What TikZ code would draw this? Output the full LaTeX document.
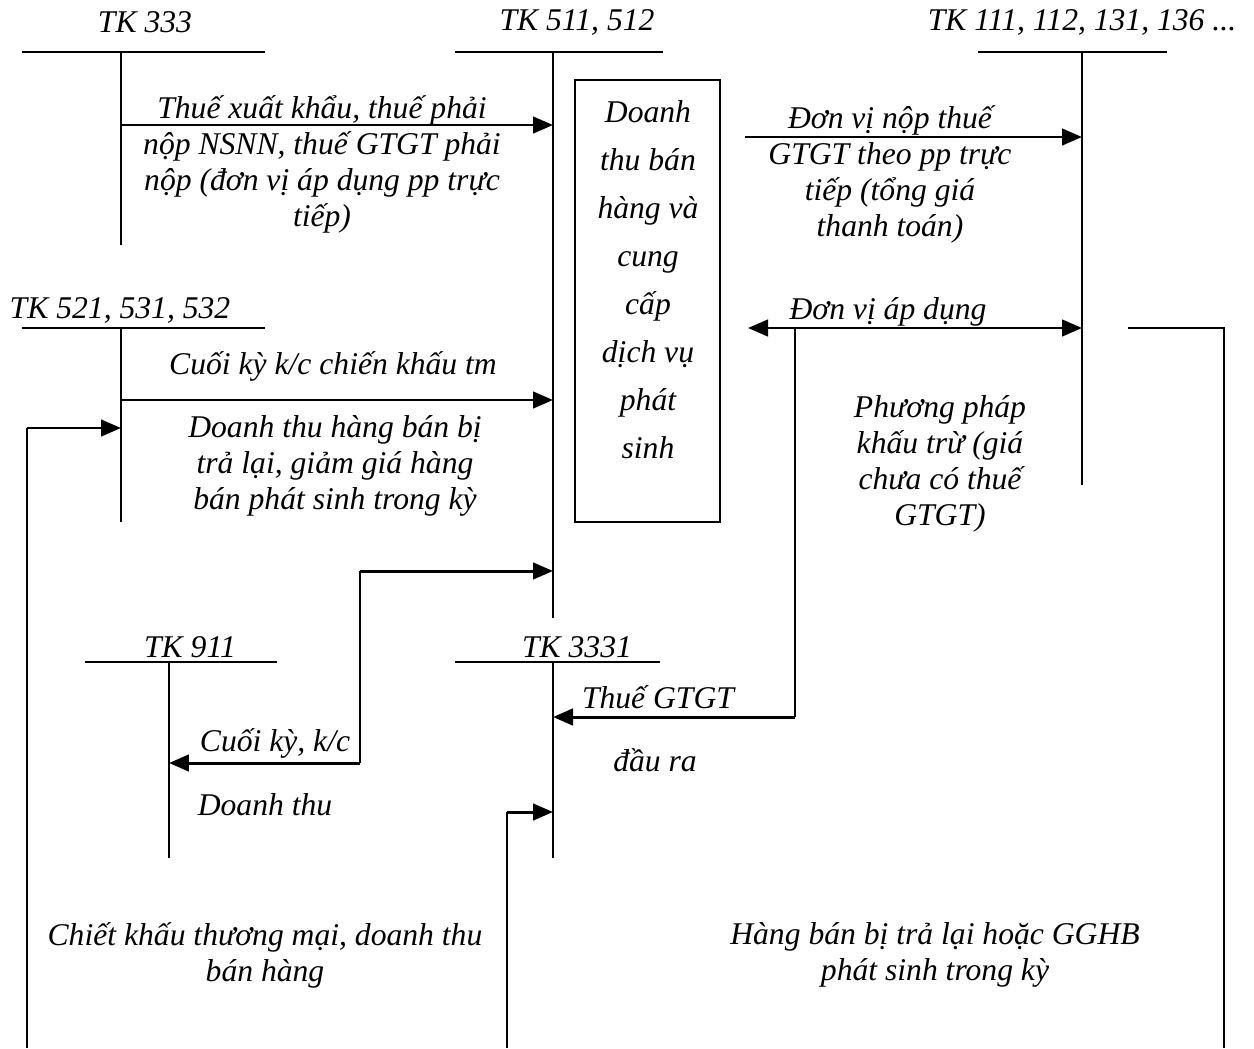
\documentclass[tikz,border=0pt]{standalone}
\usepackage{fontspec}
\setmainfont{Liberation Serif}
\usetikzlibrary{arrows.meta}

\tikzset{
  acctline/.style={line width=1.1pt},
  link/.style={line width=1.1pt},
  flow/.style={line width=1.7pt,-{Triangle[length=4mm,width=3.3mm]}},
  twoway/.style={line width=1.7pt,
    {Triangle[length=4mm,width=3.3mm]}-{Triangle[length=4mm,width=3.3mm]}},
  acctname/.style={font=\fontsize{18}{20.5}\selectfont\itshape,inner sep=0pt},
  note/.style={font=\fontsize{18}{20.5}\selectfont\itshape,align=center,inner sep=0pt},
  revbox/.style={draw,line width=1.1pt,minimum width=2.9cm,minimum height=8.84cm,inner sep=0pt},
  boxtext/.style={font=\fontsize{18}{27.3}\selectfont\itshape,align=center,inner sep=0pt},
}

\begin{document}
\begin{tikzpicture}[x=.02cm,y=-.02cm]
  \useasboundingbox (0,0) rectangle (1254,1048);

  % T accounts: key / title / title x / title y / bar from / bar to / bar y / stem x / stem end
  \foreach \acc/\title/\tx/\ty/\bl/\br/\by/\sx/\se in {
      333/{TK 333}/145/22/22/265/52/121/245,
      511/{TK 511, 512}/577/22/455/663/52/553/618,
      111/{TK 111, 112, 131, 136 ...}/1082/22/978/1167/52/1082/485,
      521/{TK 521, 531, 532}/120/310/22/265/328/121/522,
      911/{TK 911}/190/647/85/277/662/169/858,
      3331/{TK 3331}/577/647/455/660/662/553/858}{
    \node[acctname] (t\acc) at (\tx,\ty) {\title};
    \draw[acctline] (\bl,\by) -- (\br,\by);
    \coordinate (s\acc) at (\sx,\by);
    \coordinate (e\acc) at (\sx,\se);
    \draw[acctline] (s\acc) -- (e\acc);
  }

  \node[revbox] (revenue) at (647.5,301) {};
  \node[boxtext] (revenueText) at (648,280)
    {Doanh\\thu bán\\hàng và\\cung\\cấp\\dịch vụ\\phát\\sinh};

  % connectors
  \draw[flow] (s333 |- 0,125) -- (s511 |- 0,125);
  \draw[flow] (s521 |- 0,400) -- (s511 |- 0,400);
  \coordinate (cashIn) at (745,137);
  \draw[flow] (cashIn) -- (s111 |- cashIn);
  \coordinate (cashBoth) at (748,328);
  \draw[twoway] (cashBoth) -- (s111 |- cashBoth);
  \coordinate (vatTurn) at (795,328);
  \draw[link] (vatTurn) -- (vatTurn |- 0,717);
  \draw[flow] (vatTurn |- 0,717) -- (s3331 |- 0,717);
  \coordinate (returnTop) at (1128,328);
  \coordinate (returnCorner) at (1224,328);
  \draw[link] (returnTop) -- (returnCorner) -- (returnCorner |- 0,1048);
  \coordinate (discountCorner) at (27,428);
  \draw[link] (discountCorner |- 0,1048) -- (discountCorner);
  \draw[flow] (discountCorner) -- (s521 |- discountCorner);
  \coordinate (closeLow) at (360,763);
  \coordinate (closeHigh) at (360,571);
  \draw[flow] (closeLow) -- (s911 |- closeLow);
  \draw[link] (closeLow) -- (closeHigh);
  \draw[flow] (closeHigh) -- (s511 |- closeHigh);
  \coordinate (vatBack) at (507,812);
  \draw[link] (vatBack |- 0,1048) -- (vatBack);
  \draw[flow] (vatBack) -- (s3331 |- vatBack);

  % labels
  \node[note] (nExport) at (322,164)
    {Thuế xuất khẩu, thuế phải\\nộp NSNN, thuế GTGT phải\\nộp (đơn vị áp dụng pp trực\\tiếp)};
  \node[note] (nDirect) at (890,174)
    {Đơn vị nộp thuế\\GTGT theo pp trực\\tiếp (tổng giá\\thanh toán)};
  \node[note] (nApply) at (888,312) {Đơn vị áp dụng};
  \node[note] (nDeduct) at (940,464)
    {Phương pháp\\khấu trừ (giá\\chưa có thuế\\GTGT)};
  \node[note] (nClose521) at (333,366) {Cuối kỳ k/c chiến khấu tm};
  \node[note] (nReturns) at (335,466)
    {Doanh thu hàng bán bị\\trả lại, giảm giá hàng\\bán phát sinh trong kỳ};
  \node[note] (nClose911) at (275,743) {Cuối kỳ, k/c};
  \node[note] (nRevenue) at (265,805) {Doanh thu};
  \node[note] (nVat) at (658,697) {Thuế GTGT};
  \node[note] (nOutput) at (655,760) {đầu ra};
  \node[note] (nDiscount) at (265,955)
    {Chiết khấu thương mại, doanh thu\\bán hàng};
  \node[note] (nReturned) at (935,955)
    {Hàng bán bị trả lại hoặc GGHB\\phát sinh trong kỳ};
\end{tikzpicture}
\end{document}
